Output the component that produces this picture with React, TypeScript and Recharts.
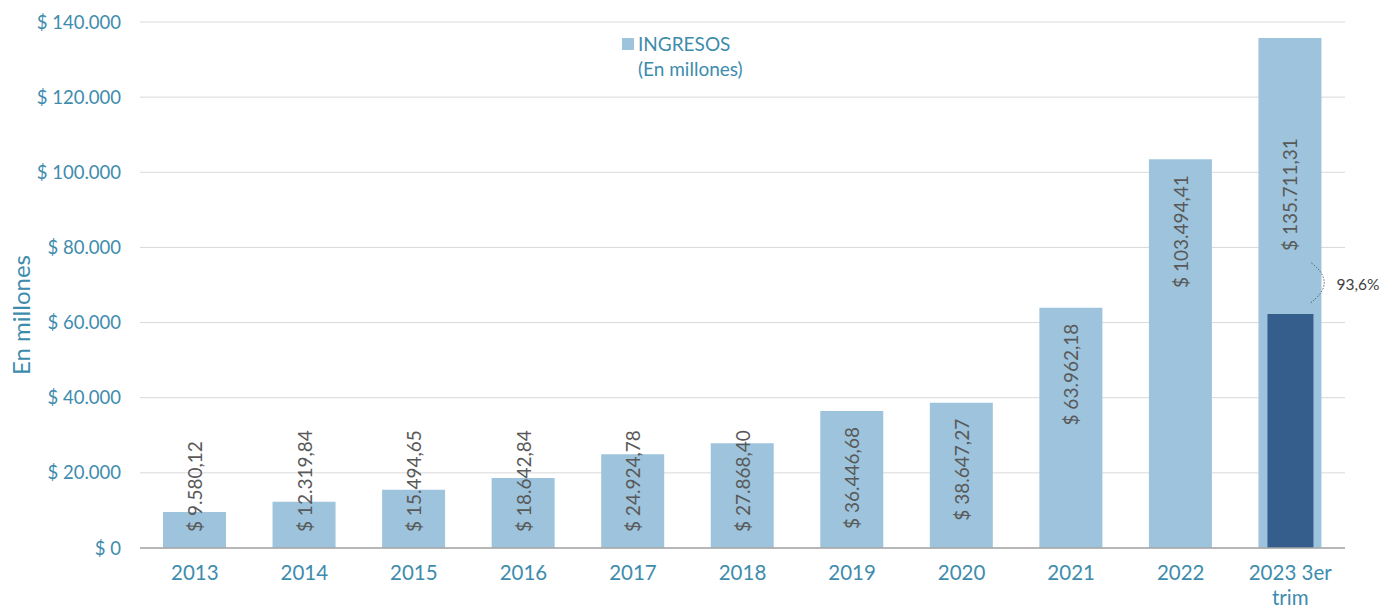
import React from 'react';
import { BarChart, Bar, XAxis, YAxis, CartesianGrid, LabelList } from 'recharts';

const categories = ['2013', '2014', '2015', '2016', '2017', '2018', '2019', '2020', '2021', '2022', '2023 3er trim'];
const ingresos = [9580.12, 12319.84, 15494.65, 18642.84, 24924.78, 27868.4, 36446.68, 38647.27, 63962.18, 103494.41, 135711.31];
const trimestre: (number | null)[] = [null, null, null, null, null, null, null, null, null, null, 62300];
const yTicks = [0, 20000, 40000, 60000, 80000, 100000, 120000, 140000];
const growthLabel = '93,6%';
const legendLines = ['INGRESOS', '(En millones)'];
const yAxisTitle = 'En millones';

const data = categories.map((c, i) => ({ cat: c, ingresos: ingresos[i], trim: trimestre[i] }));

const FONT = 'Lato, "Noto Sans", sans-serif';
const TEAL = '#3E8CAD';
const LIGHT = '#9DC4DC';
const DARK = '#365E8D';
const LABEL_GRAY = '#595959';

const groupThousands = (s: string) => s.replace(/\B(?=(\d{3})+(?!\d))/g, '.');
const fmtTick = (v: number) => '$ ' + groupThousands(String(Math.round(v)));
const fmtLabel = (v: number) => {
  const [i, d] = v.toFixed(2).split('.');
  return '$ ' + groupThousands(i) + ',' + d;
};

const LABEL_FS = 19;

const ValueLabel = (props: any) => {
  const { x, y, width, height, value, index } = props;
  if (value == null) return null;
  const text = fmtLabel(Number(value));
  const cx = Number(x) + Number(width) / 2;
  const top = Number(y);
  const base = Number(y) + Number(height);
  const approxLen = text.length * LABEL_FS * 0.5;
  const topPad = index === categories.length - 1 ? 100 : 16;
  let anchorY: number;
  let anchor: 'start' | 'end';
  if (Number(height) - 32 < approxLen) {
    anchorY = base - 16;
    anchor = 'start';
  } else {
    anchorY = top + topPad;
    anchor = 'end';
  }
  return (
    <text
      x={cx}
      y={anchorY}
      transform={`rotate(-90 ${cx} ${anchorY})`}
      textAnchor={anchor}
      dominantBaseline="central"
      fontFamily={FONT}
      fontSize={LABEL_FS}
      fill={LABEL_GRAY}
    >
      {text}
    </text>
  );
};

const GrowthLabel = (props: any) => {
  const { x, y, width, value } = props;
  if (value == null) return null;
  const xr = Number(x) + Number(width);
  const top = Number(y);
  const p0 = { x: xr - 2, y: top - 51 };
  const p2 = { x: xr - 3, y: top - 11 };
  const c = { x: xr + 24, y: top - 31 };
  return (
    <g>
      <path
        d={`M ${p0.x} ${p0.y} Q ${c.x} ${c.y} ${p2.x} ${p2.y}`}
        fill="none"
        stroke="#404040"
        strokeWidth={1}
        strokeDasharray="1.2 1.8"
      />
      <text
        x={xr + 23}
        y={top - 30}
        dominantBaseline="central"
        fontFamily={FONT}
        fontSize={15.5}
        fill="#404040"
      >
        {growthLabel}
      </text>
    </g>
  );
};

const XTick = (props: any) => {
  const { x, y, payload } = props;
  const words = String(payload.value).split(' ');
  const lines: string[] = [];
  let cur = '';
  words.forEach((w) => {
    const next = cur ? cur + ' ' + w : w;
    if (next.length > 9 && cur) {
      lines.push(cur);
      cur = w;
    } else {
      cur = next;
    }
  });
  if (cur) lines.push(cur);
  return (
    <g transform={`translate(${x},${y})`}>
      <text textAnchor="middle" fontFamily={FONT} fontSize={20.5} fill={TEAL}>
        {lines.map((l, i) => (
          <tspan key={i} x={0} dy={i === 0 ? 24 : 25}>
            {l}
          </tspan>
        ))}
      </text>
    </g>
  );
};

const YTitle = (props: any) => {
  const vb = props.viewBox || { x: 0, y: 22, width: 140, height: 526 };
  const cx = vb.x + 20;
  const cy = vb.y + vb.height / 2 + 30;
  return (
    <text
      x={cx}
      y={cy}
      transform={`rotate(-90 ${cx} ${cy})`}
      textAnchor="middle"
      dominantBaseline="central"
      fontFamily={FONT}
      fontSize={24}
      fill={TEAL}
    >
      {yAxisTitle}
    </text>
  );
};

export default function App() {
  return (
    <div style={{ position: 'absolute', left: 0, top: 0, width: 1384, height: 616, background: '#fff' }}>
      <BarChart
        width={1384}
        height={616}
        data={data}
        margin={{ top: 22, right: 39, bottom: 0, left: 0 }}
        barCategoryGap={0}
      >
        <CartesianGrid vertical={false} stroke="#D9D9D9" strokeWidth={1} />
        <XAxis
          xAxisId="a"
          dataKey="cat"
          height={68}
          axisLine={{ stroke: '#A6A6A6', strokeWidth: 1.5 }}
          tickLine={false}
          interval={0}
          tick={<XTick />}
        />
        <XAxis xAxisId="b" dataKey="cat" hide />
        <YAxis
          width={140}
          domain={[0, 140000]}
          ticks={yTicks}
          tickFormatter={fmtTick}
          axisLine={false}
          tickLine={false}
          tickMargin={13}
          tick={{ fill: TEAL, fontSize: 18.5, fontFamily: FONT }}
          label={<YTitle />}
        />
        <Bar xAxisId="a" dataKey="ingresos" fill={LIGHT} barSize={63} isAnimationActive={false}>
          <LabelList dataKey="ingresos" content={<ValueLabel />} />
        </Bar>
        <Bar xAxisId="b" dataKey="trim" fill={DARK} barSize={46} isAnimationActive={false}>
          <LabelList dataKey="trim" content={<GrowthLabel />} />
        </Bar>
      </BarChart>
      <div
        style={{
          position: 'absolute',
          left: 622,
          top: 31,
          fontFamily: FONT,
          fontSize: 19,
          color: TEAL,
          lineHeight: '25px',
        }}
      >
        <div style={{ display: 'flex', alignItems: 'center' }}>
          <span style={{ display: 'inline-block', width: 12, height: 12, background: LIGHT, marginRight: 4 }} />
          <span>{legendLines[0]}</span>
        </div>
        <div style={{ paddingLeft: 16 }}>{legendLines[1]}</div>
      </div>
    </div>
  );
}
